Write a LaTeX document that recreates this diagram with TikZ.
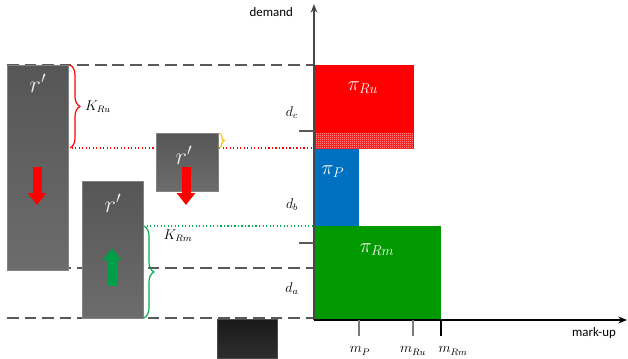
\documentclass[tikz,border=0pt]{standalone}
\usepackage{fontspec}
\setsansfont{Carlito}
\usetikzlibrary{arrows.meta, decorations.pathreplacing, patterns.meta}

\definecolor{dashgray}{HTML}{595959}
\definecolor{boxtop}{HTML}{565656}
\definecolor{boxbot}{HTML}{6c6c6c}
\definecolor{piRed}{HTML}{FF0000}
\definecolor{piBlue}{HTML}{0070C0}
\definecolor{piGreen}{HTML}{009A00}
\definecolor{kGreen}{HTML}{00B050}
\definecolor{kOrange}{HTML}{FFC000}

\tikzdeclarepattern{
  name=finechecks,
  type=uncolored,
  bounding box={(0pt,0pt) and (1.8pt,1.8pt)},
  tile size={(1.8pt,1.8pt)},
  code={
    \fill (0pt,0pt) rectangle (0.9pt,0.9pt);
    \fill (0.9pt,0.9pt) rectangle (1.8pt,1.8pt);
  }
}

\tikzset{
  rbox/.style = {top color=boxtop, bottom color=boxbot, draw=boxbot!85!white, line width=0.4pt},
  level/.style = {dashgray, line width=1.6pt, dash pattern=on 10pt off 5pt},
  rlabel/.style = {text=white!92!black, font=\fontsize{21}{24}\selectfont},
  pilabel/.style = {text=white, font=\fontsize{17}{20}\selectfont},
  fatarrow/.style = {line width=2.7mm, -{Triangle[length=3.6mm, width=5.4mm]}},
  kbrace/.style = {decorate, decoration={brace, amplitude=#1}, line width=1pt},
  axtick/.style = {line width=1pt},
  dlabel/.style = {font=\large},
}

\begin{document}
\begin{tikzpicture}[x=0.03cm, y=-0.03cm]
\useasboundingbox (0,0) rectangle (628,358);

%levels on the demand axis
        \coordinate (O) at (314,320);
        \coordinate (T) at (314,4);
        \coordinate (X) at (627,320);

        \draw[level] (7,65) -- (314,65);
        \draw[level] (7,268) -- (314,268);
        \draw[level] (7,318) -- (314,318);
        \draw[piRed, line width=1pt, dotted] (68,148) -- (314,148);
        \draw[kGreen, line width=1pt, dotted] (143,226) -- (314,226);

%the r' blocks
        \draw[rbox] (7,65) rectangle (68,270);
        \draw[rbox] (156,133) rectangle (218,191);
        \draw[rbox] (82,181) rectangle (143,318);
        \draw[top color=black!90, bottom color=black!82, draw=black!70] (217,319) rectangle (277,358);

        \node (r1) at (38,83) [rlabel] {$r'$};
        \node (r2) at (184,155) [rlabel] {$r'$};
        \node (r3) at (113,203) [rlabel] {$r'$};

        \draw[fatarrow, piRed] (37,167) -- (37,205);
        \draw[fatarrow, piRed] (186,167) -- (186,205);
        \draw[fatarrow, kGreen!90!black] (112,286) -- (112,248);

%braces
        \draw[kbrace=3mm, piRed] (70,65) -- (70,148);
        \draw[kbrace=1.6mm, kOrange] (219,133) -- (219,148);
        \draw[kbrace=3mm, kGreen] (144,226) -- (144,318);
        \node (KRu) at (98,107) [dlabel] {$K_{Ru}$};
        \node (KRm) at (178,236) [dlabel] {$K_{Rm}$};

%profit areas
        \fill[piRed] (314,65) rectangle (414,149);
        \fill[pattern=finechecks, pattern color=white] (316,133) rectangle (413,148);
        \fill[piBlue] (314,149) rectangle (359,226);
        \fill[piGreen] (314,226) rectangle (441,320);
        \node (piRu) at (363,88) [pilabel] {$\pi_{Ru}$};
        \node (piP) at (333,172) [pilabel] {$\pi_{P}$};
        \node (piRm) at (377,250) [pilabel] {$\pi_{Rm}$};

%axes and ticks
        \draw[dashgray!80!black, line width=1pt, -{Stealth[length=2.6mm, width=2mm]}] (O) -- (T);
        \draw[black, line width=1pt, -{Stealth[length=2.6mm, width=2mm]}] (O) -- (X);
        \node at (297,12) [anchor = east, font=\sffamily\fontsize{11}{13}\selectfont] (demand) {demand};
        \node at (620,333) [anchor = east, font=\sffamily\fontsize{11}{13}\selectfont] (markup) {mark-up};

        \draw[axtick, dashgray] (299,131) -- (314,131);
        \draw[axtick, dashgray] (299,243) -- (314,243);
        \node (dc) at (292,113) [dlabel] {$d_c$};
        \node (db) at (292,205) [dlabel] {$d_b$};
        \node (da) at (292,289) [dlabel] {$d_a$};

        \draw[axtick, dashgray!80] (359,320) -- (359,336);
        \draw[axtick, dashgray!80] (413,320) -- (413,336);
        \draw[axtick, black] (441,320) -- (441,336);
        \node (mP) at (360,351) [dlabel] {$m_P$};
        \node (mRu) at (413,351) [dlabel] {$m_{Ru}$};
        \node (mRm) at (453,351) [dlabel] {$m_{Rm}$};
\end{tikzpicture}
\end{document}
